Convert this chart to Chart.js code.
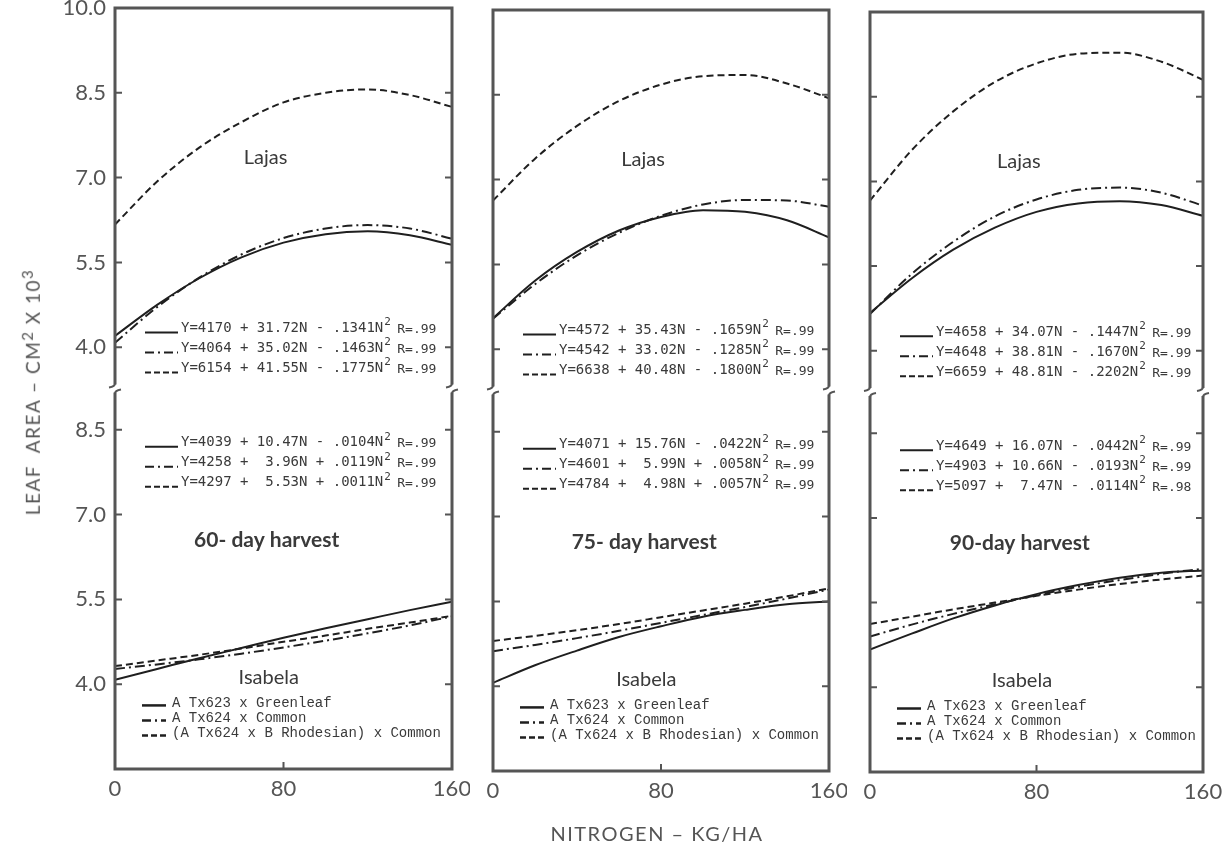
<!DOCTYPE html>
<html lang="en">
<head>
<meta charset="UTF-8">
<title>Leaf area vs nitrogen</title>
<script src="https://cdn.jsdelivr.net/npm/chart.js@4.4.1/dist/chart.umd.min.js"></script>
<style>
  body { margin: 0; background: #fff; }
  #page { position: relative; width: 1222px; height: 846px; overflow: hidden; }
  .panel { position: absolute; top: 0; height: 846px; }
  #ytitle {
    position: absolute; left: 31px; top: 392px;
    transform: translate(-50%, -50%) rotate(-90deg);
    white-space: nowrap; font: 19px Lato, sans-serif; color: #555; letter-spacing: 1.5px;
  }
  #ytitle sup { font-size: 15px; }
  #xtitle {
    position: absolute; left: 657px; top: 833px; transform: translate(-50%, -50%);
    white-space: nowrap; font: 20px Lato, sans-serif; color: #555; letter-spacing: 1.5px;
  }
</style>
</head>
<body>
<div id="page">
  <div class="panel" style="left:0;width:470px"><canvas id="c60"></canvas></div>
  <div class="panel" style="left:463px;width:384px"><canvas id="c75"></canvas></div>
  <div class="panel" style="left:840px;width:382px"><canvas id="c90"></canvas></div>
  <div id="ytitle">LEAF&nbsp;&nbsp;AREA – CM<sup>2</sup> X 10<sup>3</sup></div>
  <div id="xtitle">NITROGEN – KG/HA</div>
</div>
<script>
// nitrogen rates (kg/ha) and hybrids
const nitrogen = [0, 20, 40, 60, 80, 100, 120, 140, 160];
const hybrids = ['A Tx623 x Greenleaf', 'A Tx624 x Common', '(A Tx624 x B Rhodesian) x Common'];
const topTicks = [4.0, 5.5, 7.0, 8.5, 10.0];
const botTicks = [4.0, 5.5, 7.0, 8.5];

// leaf area, cm2 x 10^3 -- Lajas (upper) and Isabela (lower)
const lajas60Greenleaf = [4.20, 4.75, 5.22, 5.59, 5.85, 6.00, 6.05, 5.98, 5.81];
const lajas60Common    = [4.08, 4.71, 5.23, 5.64, 5.93, 6.10, 6.16, 6.10, 5.92];
const lajas60Rhodesian = [6.17, 6.93, 7.53, 7.98, 8.33, 8.50, 8.56, 8.46, 8.25];
const isabela60Greenleaf = [4.08, 4.27, 4.46, 4.64, 4.82, 4.99, 5.15, 5.31, 5.46];
const isabela60Common    = [4.27, 4.35, 4.44, 4.54, 4.65, 4.77, 4.90, 5.04, 5.20];
const isabela60Rhodesian = [4.32, 4.42, 4.52, 4.63, 4.75, 4.86, 4.98, 5.09, 5.21];

const lajas75Greenleaf = [4.55, 5.21, 5.72, 6.10, 6.34, 6.46, 6.43, 6.28, 5.98];
const lajas75Common    = [4.54, 5.15, 5.66, 6.06, 6.36, 6.56, 6.64, 6.63, 6.52];
const lajas75Rhodesian = [6.63, 7.37, 7.95, 8.39, 8.68, 8.83, 8.85, 8.70, 8.44];
const isabela75Greenleaf = [4.06, 4.37, 4.63, 4.87, 5.06, 5.23, 5.35, 5.45, 5.50];
const isabela75Common    = [4.62, 4.73, 4.85, 4.98, 5.12, 5.26, 5.40, 5.55, 5.71];
const isabela75Rhodesian = [4.80, 4.89, 4.99, 5.10, 5.22, 5.34, 5.46, 5.59, 5.73];

const lajas90Greenleaf = [4.67, 5.28, 5.79, 6.18, 6.46, 6.61, 6.65, 6.58, 6.39];
const lajas90Common    = [4.65, 5.36, 5.93, 6.38, 6.68, 6.85, 6.89, 6.80, 6.57];
const lajas90Rhodesian = [6.66, 7.55, 8.24, 8.76, 9.09, 9.26, 9.28, 9.12, 8.80];
const isabela90Greenleaf = [4.67, 4.95, 5.22, 5.45, 5.65, 5.81, 5.94, 6.03, 6.07];
const isabela90Common    = [4.90, 5.11, 5.30, 5.47, 5.63, 5.78, 5.90, 6.01, 6.10];
const isabela90Rhodesian = [5.12, 5.25, 5.38, 5.50, 5.62, 5.73, 5.83, 5.91, 5.98];

const dashes = [[], [10, 4, 2, 4], [7, 4]];
const sampleDashes = [[], [9, 4, 2, 4], [6, 3]];
const ink = '#1f1f1f';

function drawEqs(ctx, x0, y0, eqs, rs) {
  eqs.forEach((eq, i) => {
    const y = y0 + 20 * i;
    ctx.setLineDash(sampleDashes[i]);
    ctx.lineWidth = 2;
    ctx.beginPath();
    ctx.moveTo(x0 + 30, y + 4); ctx.lineTo(x0 + 63, y + 4);
    ctx.stroke();
    ctx.setLineDash([]);
    ctx.textAlign = 'left';
    ctx.font = '14px "DejaVu Sans Mono"';
    ctx.fillText(eq, x0 + 66, y);
    const w = ctx.measureText(eq).width;
    ctx.font = '11px "DejaVu Sans Mono"';
    ctx.fillText('2', x0 + 67 + w, y - 6);
    ctx.font = '13px "DejaVu Sans Mono"';
    ctx.fillText(rs[i], x0 + 80 + w, y + 1);
  });
}

// borders with broken axis, inward ticks, annotations
const panelDecor = {
  id: 'panelDecor',
  afterDraw(chart, args, o) {
    const {ctx, chartArea: a, scales} = chart;
    const yT = scales.yTop, yB = scales.yBot, x = scales.x;
    const mid = yT.bottom, gap = 4;
    ctx.save();
    ctx.strokeStyle = '#555';
    ctx.lineWidth = 3;
    ctx.beginPath();
    ctx.moveTo(a.left, mid - gap); ctx.lineTo(a.left, a.top); ctx.lineTo(a.right, a.top); ctx.lineTo(a.right, mid - gap);
    ctx.moveTo(a.left, mid + gap); ctx.lineTo(a.left, a.bottom); ctx.lineTo(a.right, a.bottom); ctx.lineTo(a.right, mid + gap);
    ctx.stroke();
    ctx.lineWidth = 2;
    [a.left, a.right].forEach(bx => {
      ctx.beginPath();
      ctx.moveTo(bx, mid - gap - 1);
      ctx.quadraticCurveTo(bx, mid - gap + 2, bx - 6, mid - gap + 3);
      ctx.moveTo(bx, mid + gap + 1);
      ctx.quadraticCurveTo(bx, mid + gap - 2, bx + 6, mid + gap - 3);
      ctx.stroke();
    });
    ctx.beginPath();
    [yT, yB].forEach(s => s.ticks.forEach(t => {
      if (t.value >= s.max - 0.01) return;
      const py = s.getPixelForValue(t.value);
      ctx.moveTo(a.left, py); ctx.lineTo(a.left + 7, py);
      ctx.moveTo(a.right, py); ctx.lineTo(a.right - 7, py);
    }));
    const px = x.getPixelForValue(80);
    ctx.moveTo(px, a.bottom); ctx.lineTo(px, a.bottom - 7);
    ctx.stroke();

    ctx.fillStyle = '#3a3a3a';
    ctx.strokeStyle = ink;
    ctx.textBaseline = 'middle';
    ctx.textAlign = 'center';
    ctx.font = '20px Lato';
    ctx.fillText('Lajas', x.getPixelForValue(71.5), yT.getPixelForValue(7.35));
    ctx.fillText('Isabela', x.getPixelForValue(73), yB.getPixelForValue(4.12));
    ctx.font = 'bold 21px Lato';
    ctx.fillText(o.harvest, x.getPixelForValue(72), yB.getPixelForValue(6.55));

    drawEqs(ctx, a.left, yT.getPixelForValue(4.33), o.topEq, o.topR);
    drawEqs(ctx, a.left, yB.getPixelForValue(8.27), o.botEq, o.botR);

    // hybrid key
    const ly = yB.getPixelForValue(3.66);
    hybrids.forEach((h, i) => {
      const y = ly + 15 * i;
      ctx.setLineDash(sampleDashes[i]);
      ctx.lineWidth = 2.5;
      ctx.beginPath();
      ctx.moveTo(a.left + 27, y + 2); ctx.lineTo(a.left + 51, y + 2);
      ctx.stroke();
      ctx.setLineDash([]);
      ctx.textAlign = 'left';
      ctx.font = '14px "Liberation Mono"';
      ctx.fillText(h, a.left + 57, y);
    });
    ctx.restore();
  }
};

function yAxis(min, max, ticks, showLabels, weight) {
  return {
    type: 'linear', position: 'left', stack: 'panel', stackWeight: 1, weight: weight,
    min: min, max: max,
    grid: { display: false, drawTicks: false },
    border: { display: false },
    ticks: {
      display: showLabels, padding: 9, color: '#555',
      font: { family: 'Lato', size: 22 },
      callback: v => v.toFixed(1)
    },
    afterBuildTicks: s => { s.ticks = ticks.map(v => ({ value: v })); },
    afterFit: s => { s.width = showLabels ? 115 : 0; s.paddingTop = 0; s.paddingBottom = 0; }
  };
}

function makePanel(id, p) {
  const ds = (vals, k, axis) => ({
    data: nitrogen.map((n, i) => ({ x: n, y: vals[i] })),
    yAxisID: axis, borderColor: ink, borderWidth: 2, borderDash: dashes[k],
    pointRadius: 0, cubicInterpolationMode: 'monotone', fill: false
  });
  new Chart(document.getElementById(id), {
    type: 'line',
    data: {
      datasets: [
        ds(p.top[0], 0, 'yTop'), ds(p.top[1], 1, 'yTop'), ds(p.top[2], 2, 'yTop'),
        ds(p.bot[0], 0, 'yBot'), ds(p.bot[1], 1, 'yBot'), ds(p.bot[2], 2, 'yBot')
      ]
    },
    options: {
      animation: false,
      responsive: true,
      maintainAspectRatio: false,
      layout: { padding: { left: p.padLeft, right: p.padRight, top: p.top0, bottom: 0 } },
      plugins: { legend: { display: false }, tooltip: { enabled: false }, panelDecor: p.decor },
      scales: {
        x: {
          type: 'linear', min: 0, max: 160,
          grid: { display: false, drawTicks: false },
          border: { display: false },
          ticks: { stepSize: 80, padding: 7, color: '#555', font: { family: 'Lato', size: 22 } },
          afterFit: s => { s.height = 846 - p.bottom0; s.paddingLeft = 0; s.paddingRight = 0; }
        },
        yBot: yAxis(2.5, 9.23, botTicks, p.labels, 0),
        yTop: yAxis(3.27, 10.0, topTicks, p.labels, 1)
      }
    },
    plugins: [panelDecor]
  });
}

makePanel('c60', {
  padLeft: 0, padRight: 18, top0: 8, bottom0: 769, labels: true,
  top: [lajas60Greenleaf, lajas60Common, lajas60Rhodesian],
  bot: [isabela60Greenleaf, isabela60Common, isabela60Rhodesian],
  decor: {
    harvest: '60- day harvest',
    topEq: ['Y=4170 + 31.72N - .1341N', 'Y=4064 + 35.02N - .1463N', 'Y=6154 + 41.55N - .1775N'],
    topR: ['R=.99', 'R=.99', 'R=.99'],
    botEq: ['Y=4039 + 10.47N - .0104N', 'Y=4258 +  3.96N + .0119N', 'Y=4297 +  5.53N + .0011N'],
    botR: ['R=.99', 'R=.99', 'R=.99']
  }
});
makePanel('c75', {
  padLeft: 30, padRight: 18, top0: 10, bottom0: 771, labels: false,
  top: [lajas75Greenleaf, lajas75Common, lajas75Rhodesian],
  bot: [isabela75Greenleaf, isabela75Common, isabela75Rhodesian],
  decor: {
    harvest: '75- day harvest',
    topEq: ['Y=4572 + 35.43N - .1659N', 'Y=4542 + 33.02N - .1285N', 'Y=6638 + 40.48N - .1800N'],
    topR: ['R=.99', 'R=.99', 'R=.99'],
    botEq: ['Y=4071 + 15.76N - .0422N', 'Y=4601 +  5.99N + .0058N', 'Y=4784 +  4.98N + .0057N'],
    botR: ['R=.99', 'R=.99', 'R=.99']
  }
});
makePanel('c90', {
  padLeft: 30, padRight: 19, top0: 12, bottom0: 772, labels: false,
  top: [lajas90Greenleaf, lajas90Common, lajas90Rhodesian],
  bot: [isabela90Greenleaf, isabela90Common, isabela90Rhodesian],
  decor: {
    harvest: '90-day harvest',
    topEq: ['Y=4658 + 34.07N - .1447N', 'Y=4648 + 38.81N - .1670N', 'Y=6659 + 48.81N - .2202N'],
    topR: ['R=.99', 'R=.99', 'R=.99'],
    botEq: ['Y=4649 + 16.07N - .0442N', 'Y=4903 + 10.66N - .0193N', 'Y=5097 +  7.47N - .0114N'],
    botR: ['R=.99', 'R=.99', 'R=.98']
  }
});
</script>
</body>
</html>
